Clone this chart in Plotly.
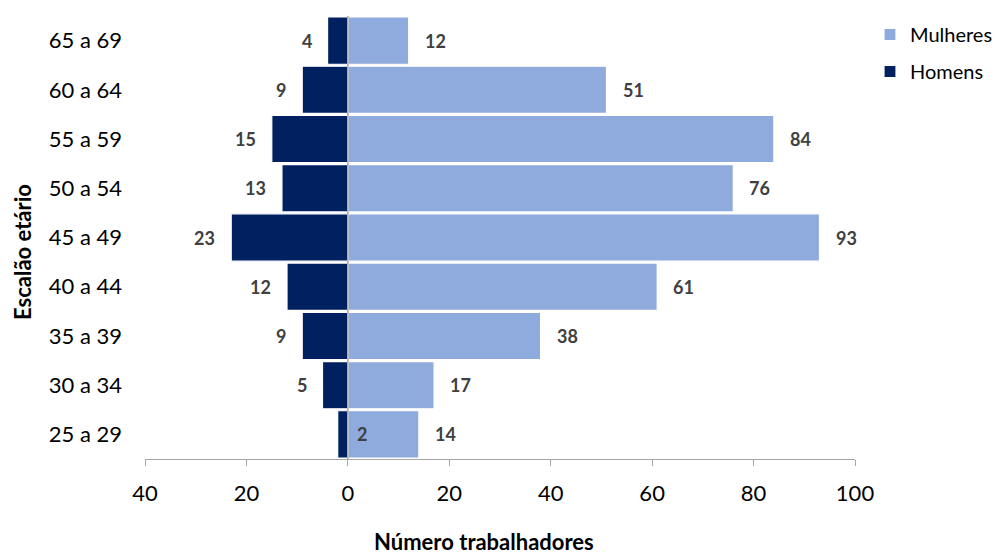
import plotly.graph_objects as go

categories = ["25 a 29", "30 a 34", "35 a 39", "40 a 44", "45 a 49", "50 a 54", "55 a 59", "60 a 64", "65 a 69"]
homens = [2, 5, 9, 12, 23, 13, 15, 9, 4]
mulheres = [14, 17, 38, 61, 93, 76, 84, 51, 12]
x_ticks = [-40, -20, 0, 20, 40, 60, 80, 100]
x_tick_labels = ["40", "20", "0", "20", "40", "60", "80", "100"]

C_M = "#8FAADC"
C_H = "#002060"
FONT = "Lato"

fig = go.Figure()
fig.add_trace(go.Bar(y=categories, x=mulheres, orientation="h", name="Mulheres",
                     legendgroup="m",
                     marker=dict(color=C_M, line=dict(color="white", width=1.2))))
fig.add_trace(go.Bar(y=categories, x=[-v for v in homens], orientation="h", name="Homens",
                     legendgroup="h",
                     marker=dict(color=C_H, line=dict(color="white", width=1.2))))

lab_font = dict(family=FONT, size=18, color="#404040", weight="bold")
for c, v in zip(categories, mulheres):
    fig.add_annotation(x=v, y=c, text=str(v), showarrow=False, xanchor="left",
                       xshift=14, font=lab_font)
for c, v in zip(categories, homens):
    if v < 3:
        fig.add_annotation(x=0, y=c, text=str(v), showarrow=False, xanchor="left",
                           xshift=7, font=lab_font)
    else:
        fig.add_annotation(x=-v, y=c, text=str(v), showarrow=False, xanchor="right",
                           xshift=-14, font=lab_font)

fig.add_shape(type="line", xref="x", yref="paper", x0=0, x1=0, y0=0, y1=1,
              line=dict(color="#A6A6A6", width=1.5), layer="above")

OFF = 8  # page body margin
W, H = 1008 - OFF, 556 - OFF
L, R, T, B = 145 - OFF, 1008 - 855, 16 - OFF, 556 - 459
pw, ph = W - L - R, H - T - B


def px_x(page_x):
    return (page_x - OFF - L) / pw


def px_y(page_y):
    return (H - B - (page_y - OFF)) / ph


title_font = dict(family=FONT, size=22, color="#000000", weight="bold")
fig.add_annotation(xref="paper", yref="paper", x=px_x(484), y=px_y(541),
                   text="Número trabalhadores", showarrow=False, font=title_font,
                   xanchor="center", yanchor="middle")
fig.add_annotation(xref="paper", yref="paper", x=px_x(22), y=px_y(252),
                   text="Escalão etário", showarrow=False, font=title_font, textangle=-90,
                   xanchor="center", yanchor="middle")

fig.update_layout(
    width=W, height=H,
    margin=dict(l=L, r=R, t=T, b=B, autoexpand=False),
    plot_bgcolor="white", paper_bgcolor="white",
    barmode="relative", bargap=0.04,
    font=dict(family=FONT, size=22, color="#000000"),
    legend=dict(x=px_x(870), y=px_y(15), xanchor="left", yanchor="top",
                font=dict(family=FONT, size=20), traceorder="grouped",
                tracegroupgap=8, itemwidth=30),
    showlegend=True,
)
fig.update_xaxes(range=[-40, 100], tickvals=x_ticks, ticktext=x_tick_labels,
                 showgrid=False, zeroline=False, showline=True, linecolor="#A6A6A6",
                 linewidth=1.2, ticks="outside", ticklen=6, tickcolor="#A6A6A6",
                 ticklabelstandoff=8, tickfont=dict(size=22), automargin=False)
fig.update_yaxes(categoryorder="array", categoryarray=categories, range=[-0.5, 8.5],
                 showgrid=False, zeroline=False, showline=False, ticks="",
                 ticklabelstandoff=22, tickfont=dict(size=22), automargin=False)

fig.write_html("out.html")
